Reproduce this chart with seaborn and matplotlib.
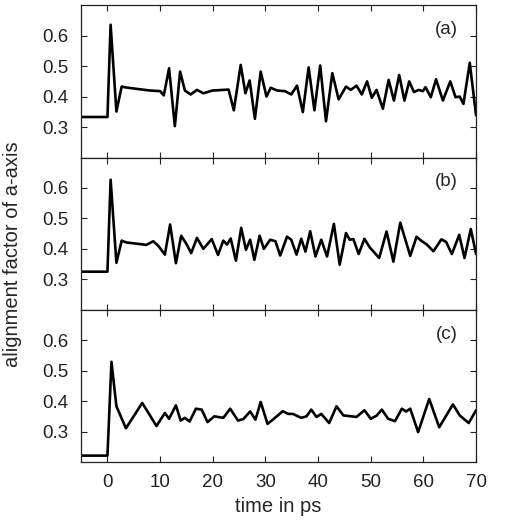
import numpy as np
import pandas as pd
import seaborn as sns
from matplotlib import pyplot as plt

# panel (a)
t_a = [-5, 0, 0.6, 1.7, 2.7, 3.5, 8, 10, 10.7, 11.7, 12.8, 13.8, 14.7, 15.8, 17, 18.2, 20, 23,
       24, 25.3, 26.2, 27, 28, 29.1, 30.2, 31, 32.2, 33.7, 34.9, 36, 37.1, 38.2, 39.3, 40.4,
       41.5, 42.7, 43.9, 45.3, 46.2, 47.3, 48.3, 49.3, 50.2, 51.1, 52.3, 53.4, 54.4, 55.4,
       56.4, 57.3, 58.2, 59.1, 59.9, 60.4, 61.4, 62.4, 63.7, 65.1, 66.1, 66.9, 67.6, 68.8, 70]
v_a = [0.333, 0.333, 0.636, 0.351, 0.433, 0.43, 0.42, 0.418, 0.404, 0.493, 0.303, 0.482, 0.42,
       0.407, 0.422, 0.411, 0.42, 0.423, 0.355, 0.504, 0.411, 0.453, 0.327, 0.482, 0.40, 0.429,
       0.42, 0.418, 0.407, 0.436, 0.349, 0.496, 0.355, 0.502, 0.319, 0.477, 0.391, 0.433,
       0.422, 0.436, 0.407, 0.45, 0.396, 0.422, 0.36, 0.455, 0.387, 0.471, 0.387, 0.45, 0.415,
       0.422, 0.418, 0.431, 0.398, 0.457, 0.387, 0.45, 0.398, 0.40, 0.376, 0.511, 0.338]

# panel (b)
t_b = [-5, 0, 0.6, 1.7, 2.7, 3.6, 7.4, 8.7, 9.7, 10.9, 11.9, 13, 14, 15, 15.9, 17, 18.2, 19.8,
       21, 22, 22.7, 23.4, 24.4, 25.4, 26.3, 27.1, 27.9, 28.9, 29.7, 30.9, 31.9, 32.8, 34.1,
       34.9, 35.9, 36.8, 37.6, 38.5, 39.5, 40.6, 41.7, 43, 44.1, 45.3, 46, 46.7, 47.7, 48.8,
       49.8, 51.6, 53, 54.3, 55.6, 57.5, 58.7, 59.7, 60.6, 61.9, 63.4, 64.3, 65.4, 66.8, 67.8,
       69, 70]
v_b = [0.325, 0.325, 0.627, 0.354, 0.427, 0.421, 0.413, 0.425, 0.409, 0.381, 0.48, 0.353, 0.443,
       0.416, 0.386, 0.436, 0.40, 0.432, 0.38, 0.427, 0.414, 0.434, 0.361, 0.469, 0.397, 0.43,
       0.364, 0.443, 0.40, 0.43, 0.425, 0.378, 0.44, 0.43, 0.381, 0.433, 0.391, 0.458, 0.375,
       0.43, 0.375, 0.482, 0.348, 0.452, 0.43, 0.432, 0.383, 0.433, 0.405, 0.37, 0.457, 0.358,
       0.486, 0.377, 0.44, 0.425, 0.415, 0.392, 0.431, 0.423, 0.383, 0.446, 0.37, 0.465, 0.383]

# panel (c)
t_c = [-5, 0, 0.76, 1.7, 3.5, 4.9, 6.6, 7.9, 9.3, 10.9, 11.7, 13, 13.9, 14.7, 15.6, 16.8, 17.9,
       19, 20.3, 22, 23.3, 24.8, 25.8, 27.1, 28.1, 29.1, 30.4, 31.6, 33.3, 34.3, 35.2, 36.8,
       37.8, 38.7, 39.7, 40.6, 42.1, 43.5, 44.8, 47.3, 48.8, 50, 51.1, 52.1, 53.3, 54.6, 55.9,
       56.7, 57.5, 59, 61.1, 63, 65.6, 66.9, 68.6, 70]
v_c = [0.221, 0.221, 0.529, 0.383, 0.311, 0.348, 0.394, 0.358, 0.318, 0.361, 0.342, 0.386,
       0.336, 0.345, 0.333, 0.375, 0.372, 0.331, 0.35, 0.345, 0.375, 0.336, 0.341, 0.366, 0.339,
       0.397, 0.325, 0.342, 0.367, 0.358, 0.358, 0.345, 0.35, 0.372, 0.348, 0.358, 0.328, 0.383,
       0.353, 0.348, 0.37, 0.342, 0.352, 0.372, 0.342, 0.334, 0.375, 0.366, 0.375, 0.298, 0.407,
       0.314, 0.389, 0.353, 0.328, 0.37]

panels = [('(a)', t_a, v_a), ('(b)', t_b, v_b), ('(c)', t_c, v_c)]

sns.set_style('ticks')
plt.rcParams['font.family'] = ['Liberation Sans', 'DejaVu Sans']

fig, axes = plt.subplots(3, 1, sharex=True, figsize=(5.07, 5.25), dpi=100)
fig.subplots_adjust(left=0.16, right=0.939, bottom=0.12, top=0.99, hspace=0)

for ax, (lab, t, v) in zip(axes, panels):
    df = pd.DataFrame({'t': t, 'v': v})
    sns.lineplot(data=df, x='t', y='v', ax=ax, color='black', lw=1.9,
                 solid_joinstyle='round', solid_capstyle='round')
    ax.set_xlim(-5, 70)
    ax.set_ylim(0.2, 0.7)
    ax.set_yticks([0.3, 0.4, 0.5, 0.6])
    ax.set_xticks(range(0, 71, 10))
    ax.set_xlabel('')
    ax.set_ylabel('')
    ax.tick_params(direction='in', top=True, right=True, length=4, labelsize=13.5,
                   colors='#222222', pad=9)
    for s in ax.spines.values():
        s.set_color('#222222')
        s.set_linewidth(0.9)
    ax.text(0.925, 0.84, lab, transform=ax.transAxes, ha='center', va='center', fontsize=13.5)

axes[-1].set_xlabel('time in ps', fontsize=14.5, labelpad=4)
fig.text(0.025, 0.515, 'alignment factor of a-axis', rotation=90, ha='center', va='center',
         fontsize=14.5)

plt.savefig('out.png', dpi=100)
